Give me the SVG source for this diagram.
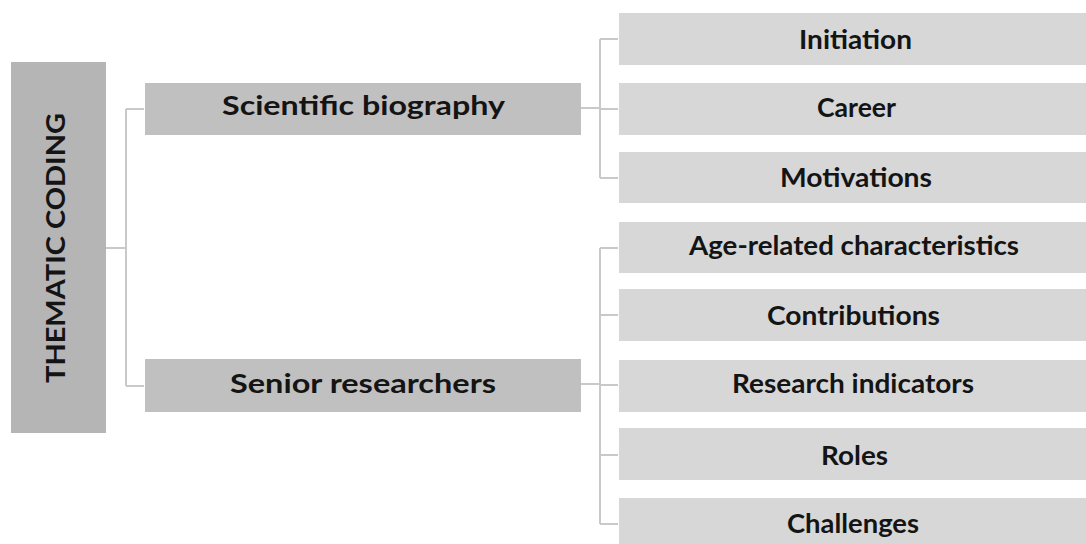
<svg xmlns="http://www.w3.org/2000/svg" width="1086" height="544" viewBox="0 0 1086 544">
<style>
.root{fill:#b5b5b5}
.l1{fill:#c0c0c0}
.l2{fill:#d7d7d7}
text{font-family:Lato,"Open Sans","Liberation Sans",sans-serif;font-weight:700;font-size:27px;fill:#141414;text-anchor:middle}
.conn path{fill:none;stroke:#c9c9c9;stroke-width:2}
</style>
<rect width="1086" height="544" fill="#ffffff"/>
<g class="conn" id="connectors">
<path d="M106 248H126M126 109V386M126 109H144M126 386H144"/>
<path d="M581 108H600M600 39V178M600 39H618M600 109H618M600 178H618"/>
<path d="M581 384H600M600 248V524M600 248H618M600 315H618M600 385H618M600 455H618M600 524H618"/>
</g>
<g id="root"><rect class="root" x="11" y="62" width="95" height="371"/>
<text transform="translate(65 248) rotate(-90)" font-size="29" textLength="270" lengthAdjust="spacingAndGlyphs">THEMATIC CODING</text></g>
<g id="sci"><rect class="l1" x="145" y="83" width="436" height="52"/>
<text x="363.5" y="115" textLength="283" lengthAdjust="spacingAndGlyphs">Scientific biography</text></g>
<g id="senior"><rect class="l1" x="145" y="359" width="436" height="53"/>
<text x="363" y="393" textLength="266" lengthAdjust="spacingAndGlyphs">Senior researchers</text></g>
<g id="initiation"><rect class="l2" x="619" y="13" width="467" height="52"/>
<text x="855.5" y="49" textLength="113" lengthAdjust="spacingAndGlyphs">Initiation</text></g>
<g id="career"><rect class="l2" x="619" y="83" width="467" height="52"/>
<text x="856.5" y="117" textLength="79" lengthAdjust="spacingAndGlyphs">Career</text></g>
<g id="motivations"><rect class="l2" x="619" y="152" width="467" height="51"/>
<text x="856" y="187" textLength="152" lengthAdjust="spacingAndGlyphs">Motivations</text></g>
<g id="age"><rect class="l2" x="619" y="222" width="467" height="51"/>
<text x="854" y="255" textLength="330" lengthAdjust="spacingAndGlyphs">Age-related characteristics</text></g>
<g id="contrib"><rect class="l2" x="619" y="289" width="467" height="52"/>
<text x="853.5" y="325" textLength="173" lengthAdjust="spacingAndGlyphs">Contributions</text></g>
<g id="research"><rect class="l2" x="619" y="360" width="467" height="52"/>
<text x="853" y="393" textLength="242" lengthAdjust="spacingAndGlyphs">Research indicators</text></g>
<g id="roles"><rect class="l2" x="619" y="428" width="467" height="52"/>
<text x="854.5" y="465" textLength="67" lengthAdjust="spacingAndGlyphs">Roles</text></g>
<g id="challenges"><rect class="l2" x="619" y="498" width="467" height="52"/>
<text x="853" y="533" textLength="132" lengthAdjust="spacingAndGlyphs">Challenges</text></g>
</svg>
